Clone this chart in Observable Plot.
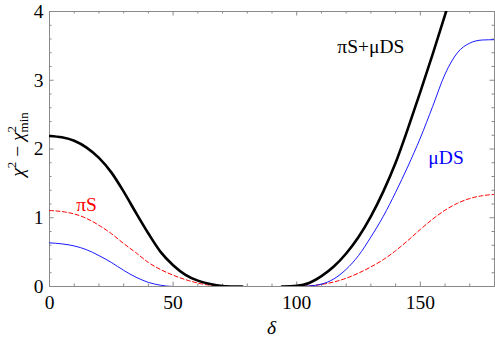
<!DOCTYPE html>
<html>
<head>
<meta charset="utf-8">
<script src="https://cdn.jsdelivr.net/npm/d3@7"></script>
<script src="https://cdn.jsdelivr.net/npm/@observablehq/plot@0.6"></script>
<style>
  html, body { margin: 0; padding: 0; background: #fff; }
</style>
</head>
<body>
<div id="chart"></div>
<script>
// ---- data ----
const blackX = [0, 5, 10, 15, 20, 25, 30, 35, 40, 45, 50, 55, 60, 65, 70, 75, 78, 86, 94, 100, 105, 110, 115, 120, 125, 130, 135, 140, 145, 150, 155, 160, 162];
const blackY = [2.19, 2.17, 2.12, 2.02, 1.87, 1.66, 1.38, 1.07, 0.77, 0.50, 0.31, 0.17, 0.085, 0.035, 0.008, 0.001, 0, null, 0, 0.01, 0.05, 0.15, 0.29, 0.48, 0.72, 1.02, 1.38, 1.80, 2.30, 2.83, 3.38, 3.95, 4.18];

const blueX = [0, 5, 10, 15, 20, 25, 30, 35, 40, 45, 50, 83.5, 90, 98, 105, 110, 115, 120, 125, 130, 135, 140, 145, 150, 155, 160, 165, 170, 175, 180];
const blueY = [0.635, 0.62, 0.59, 0.535, 0.45, 0.35, 0.235, 0.135, 0.06, 0.018, 0, 0, null, 0, 0.008, 0.035, 0.11, 0.25, 0.45, 0.72, 1.02, 1.37, 1.75, 2.16, 2.62, 3.09, 3.40, 3.54, 3.585, 3.59];

const redX = [0, 5, 10, 15, 20, 25, 30, 35, 40, 45, 50, 55, 60, 65, 70, 72, 86, 100, 105, 110, 115, 120, 125, 130, 135, 140, 145, 150, 155, 160, 165, 170, 175, 180];
const redY = [1.105, 1.09, 1.055, 0.99, 0.89, 0.77, 0.625, 0.49, 0.35, 0.245, 0.165, 0.10, 0.05, 0.018, 0.003, 0, null, 0, 0.01, 0.03, 0.065, 0.12, 0.195, 0.285, 0.39, 0.52, 0.67, 0.83, 0.98, 1.11, 1.21, 1.28, 1.32, 1.34];

const xMajor = [0, 50, 100, 150];
const xMinor = [10, 20, 30, 40, 60, 70, 80, 90, 110, 120, 130, 140, 160, 170];
const yMajor = [0, 1, 2, 3, 4];
const yMinor = [0.2, 0.4, 0.6, 0.8, 1.2, 1.4, 1.6, 1.8, 2.2, 2.4, 2.6, 2.8, 3.2, 3.4, 3.6, 3.8];
const xDomain = [0, 180];
const yDomain = [0, 4];

const labelText = ["πS+μDS", "μDS", "πS"];
const labelX = [130, 160.4, 15];
const labelY = [3.49, 1.88, 1.19];
const labelColor = ["#000000", "#0000ff", "#ff0000"];

// ---- layout ----
const W = 495, H = 340;
const mT = 11, mB = 54, mL = 49, mR = 1;
const font = "'Liberation Serif', 'Times New Roman', serif";
const fs = 19.5;
const frameColor = "#8a8a8a";

const yPerPx = (yDomain[1] - yDomain[0]) / (H - mT - mB);
const xPerPx = (xDomain[1] - xDomain[0]) / (W - mL - mR);
const majLen = 4.5, minLen = 2.5;

const rows = (xs, ys) => xs.map((x, i) => ({x, y: ys[i]}));
const labels = labelText.map((t, i) => ({t, x: labelX[i], y: labelY[i], c: labelColor[i]}));

const plot = Plot.plot({
  width: W,
  height: H,
  marginTop: mT,
  marginBottom: mB,
  marginLeft: mL,
  marginRight: mR,
  style: {fontFamily: font, fontSize: fs + "px", background: "#fff"},
  x: {domain: xDomain, axis: null},
  y: {domain: yDomain, axis: null},
  marks: [
    Plot.frame({stroke: frameColor, strokeWidth: 1}),
    // bottom / top ticks
    Plot.ruleX(xMajor, {x: d => d, y1: 0, y2: majLen * yPerPx, stroke: frameColor}),
    Plot.ruleX(xMinor, {x: d => d, y1: 0, y2: minLen * yPerPx, stroke: frameColor}),
    Plot.ruleX(xMajor, {x: d => d, y1: 4 - majLen * yPerPx, y2: 4, stroke: frameColor}),
    Plot.ruleX(xMinor, {x: d => d, y1: 4 - minLen * yPerPx, y2: 4, stroke: frameColor}),
    // left / right ticks
    Plot.ruleY(yMajor, {y: d => d, x1: 0, x2: majLen * xPerPx, stroke: frameColor}),
    Plot.ruleY(yMinor, {y: d => d, x1: 0, x2: minLen * xPerPx, stroke: frameColor}),
    Plot.ruleY(yMajor, {y: d => d, x1: 180 - majLen * xPerPx, x2: 180, stroke: frameColor}),
    Plot.ruleY(yMinor, {y: d => d, x1: 180 - minLen * xPerPx, x2: 180, stroke: frameColor}),
    // tick labels
    Plot.axisX(xMajor, {tickSize: 0, tickPadding: 9, fontSize: fs, fill: "#000", label: null, tickFormat: d => `${d}`}),
    Plot.axisY(yMajor, {tickSize: 0, tickPadding: 6, fontSize: fs, fill: "#000", label: null, tickFormat: d => `${d}`}),
    // curves
    Plot.line(rows(redX, redY), {x: "x", y: "y", stroke: "#ff0000", strokeWidth: 1, strokeDasharray: "4,2.5", curve: "monotone-x", clip: true}),
    Plot.line(rows(blueX, blueY), {x: "x", y: "y", stroke: "#0000ff", strokeWidth: 0.9, curve: "monotone-x", clip: true}),
    Plot.line(rows(blackX, blackY), {x: "x", y: "y", stroke: "#000", strokeWidth: 2.6, curve: "monotone-x", clip: true}),
    // curve labels
    Plot.text(labels, {x: "x", y: "y", text: "t", fill: "c", fontSize: fs, fontFamily: font})
  ]
});

document.getElementById("chart").appendChild(plot);

// axis titles with super/subscripts
const svg = d3.select(plot);
const ylab = svg.append("text")
  .attr("transform", `translate(24, ${(mT + H - mB) / 2 - 4}) rotate(-90)`)
  .attr("text-anchor", "middle")
  .attr("font-family", font)
  .attr("font-size", fs)
  .attr("fill", "#000");
ylab.append("tspan").attr("font-style", "italic").text("χ");
ylab.append("tspan").attr("font-size", 13).attr("dy", -8).text("2");
ylab.append("tspan").attr("dy", 8).text(" − ");
ylab.append("tspan").attr("font-style", "italic").text("χ");
ylab.append("tspan").attr("font-size", 13).attr("dy", -8).text("2");
ylab.append("tspan").attr("font-size", 13).attr("dx", -6.5).attr("dy", 12).text("min");

svg.append("text")
  .attr("x", (mL + W - mR) / 2)
  .attr("y", 334)
  .attr("text-anchor", "middle")
  .attr("font-family", font)
  .attr("font-size", fs)
  .attr("font-style", "italic")
  .attr("fill", "#000")
  .text("δ");
</script>
</body>
</html>
